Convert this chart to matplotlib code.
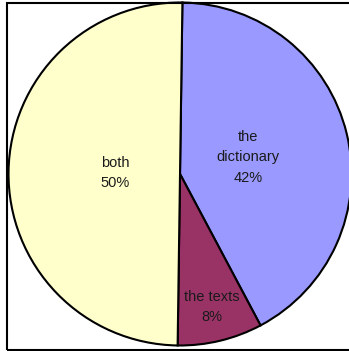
import matplotlib.pyplot as plt
import numpy as np
from matplotlib.patches import Rectangle

# shares of answers
categories = ["the\ndictionary", "the texts", "both"]
shares = [42, 8, 50]
colours = ["#9999FF", "#993366", "#FFFFCC"]
# how far from the centre each label sits (fraction of radius)
label_dist = [0.41, 0.80, 0.38]

plt.rcParams['font.family'] = ['Liberation Sans', 'DejaVu Sans']

fig = plt.figure(figsize=(3.49, 3.51), dpi=100, facecolor='white')
ax = fig.add_axes([0.0244, 0.0157, 0.9828, 0.9772])

wedges, _ = ax.pie(shares, colors=colours, startangle=89.2, counterclock=False,
                   wedgeprops=dict(edgecolor='black', linewidth=1.5))

for w, name, val, d in zip(wedges, categories, shares, label_dist):
    mid = np.deg2rad((w.theta1 + w.theta2) / 2)
    ax.text(d * np.cos(mid), d * np.sin(mid), f"{name}\n{val}%",
            ha='center', va='center', fontsize=10.5, linespacing=1.55,
            color='#1a1a1a')

ax.set_xlim(-1, 1)
ax.set_ylim(-1, 1)
ax.set_aspect('equal')
ax.axis('off')

# frame round the whole chart
fig.patches.append(Rectangle((0.0201, 0.0028), 0.983, 0.9887, transform=fig.transFigure,
                             fill=False, edgecolor='black', linewidth=1.5, zorder=0))

fig.savefig("out.png", dpi=100)
